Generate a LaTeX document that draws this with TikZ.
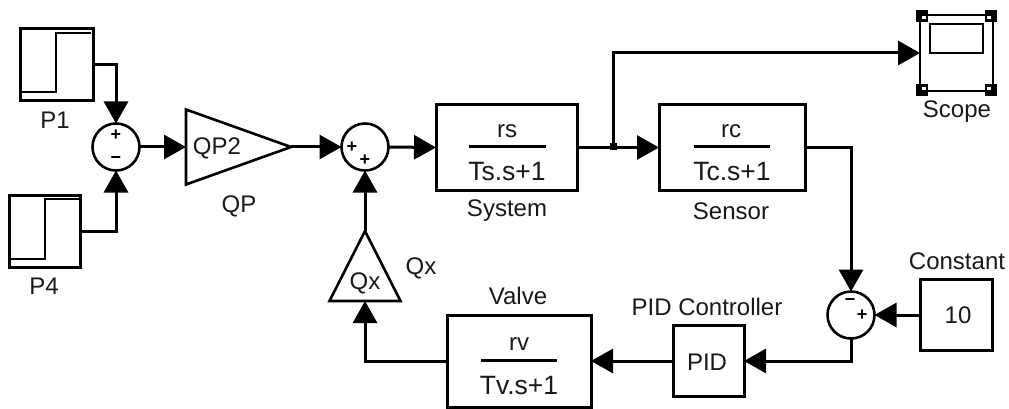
\documentclass[tikz,border=0pt]{standalone}
\usepackage{fontspec}
\setmainfont{Liberation Sans}
\usetikzlibrary{arrows.meta,shapes.geometric,calc}
\tikzset{
 x=1pt,y=-1pt,
 block/.style={draw,line width=3pt,inner sep=0pt,outer sep=0pt,rectangle},
 sumj/.style={draw,circle,line width=2.6pt,minimum size=47pt,inner sep=0pt,outer sep=0pt},
 gain/.style={draw,isosceles triangle,isosceles triangle stretches,line width=2.6pt,inner sep=0pt,outer sep=0pt},
 wire/.style={line width=3pt,-{Triangle[length=22pt,width=24pt]}},
 plain/.style={line width=3pt},
 lbl/.style={font=\fontsize{24}{28}\selectfont,text=black!90,inner sep=0pt,anchor=center},
 den/.style={lbl,font=\fontsize{26.5}{28}\selectfont},
 sgn/.style={font=\fontsize{18}{18}\selectfont\bfseries,inner sep=0pt},
 handle/.style={fill=black,inner sep=0pt,minimum size=12pt,rectangle},
 handlein/.style={fill=white,inner sep=0pt,minimum size=4pt,rectangle},
}
\begin{document}
\begin{tikzpicture}
\useasboundingbox (0,0) rectangle (1009,409);
% sources
\node[block,minimum width=73pt,minimum height=72pt] (p1) at (56.5,65) {};
\draw[line width=2.6pt] (21,92) -- (56,92) -- (56,33) -- (91,33);
\node[block,minimum width=71pt,minimum height=72pt] (p4) at (45,231) {};
\draw[line width=2.6pt] (10,259) -- (45,259) -- (45,199) -- (80,199);
\node[lbl] (lp1) at (55,120) {P1};
\node[lbl] (lp4) at (44,286) {P4};
% sums
\node[sumj] (s1) at (116,147) {};
\node[sgn] (s1a) at (116,135) {+};
\node[sgn] (s1b) at (116,160) {−};
\node[sumj] (s2) at (365,147) {};
\node[sgn] (s2a) at (352,147) {+};
\node[sgn] (s2b) at (365,160) {+};
\node[sumj] (s3) at (851,315) {};
\node[sgn] (s3a) at (850,302) {−};
\node[sgn] (s3b) at (862,315) {+};
% gains
\node[gain,anchor=lower side,minimum width=75pt,minimum height=105pt] (qp) at (186,147) {};
\node[lbl] (qpt) at (217,148) {QP2};
\node[lbl] (qpl) at (239,206) {QP};
\node[gain,anchor=lower side,shape border rotate=90,minimum width=71pt,minimum height=70pt] (qx) at (365,301) {};
\node[lbl] (qxt) at (365,283) {Qx};
\node[lbl] (qxl) at (421,268) {Qx};
% transfer blocks
\node[block,minimum width=141pt,minimum height=85pt] (sys) at (506.5,147.5) {};
\node[lbl] (sysn) at (507,131) {rs};
\draw[plain] (469,147) -- (546,147);
\node[den] (sysd) at (507,172) {Ts.s+1};
\node[lbl] (sysl) at (507,211) {System};
\node[block,minimum width=146pt,minimum height=85pt] (sen) at (732,147.5) {};
\node[lbl] (senn) at (731,131) {rc};
\draw[plain] (694,147) -- (770,147);
\node[den] (send) at (732,172) {Tc.s+1};
\node[lbl] (senl) at (731,211) {Sensor};
\node[block,minimum width=144pt,minimum height=92pt] (val) at (519,361) {};
\node[lbl] (valn) at (519,344) {rv};
\draw[plain] (481,360) -- (557,360);
\node[den] (vald) at (519,386) {Tv.s+1};
\node[lbl] (vall) at (518,296) {Valve};
\node[block,minimum width=71pt,minimum height=71pt] (pid) at (708.5,361) {};
\node[lbl] (pidt) at (707,362) {PID};
\node[lbl] (pidl) at (707,307) {PID Controller};
\node[block,minimum width=72pt,minimum height=71pt] (con) at (956,315) {};
\node[lbl] (cont) at (958,315) {10};
\node[lbl] (conl) at (957,261) {Constant};
% scope
\node[block,line width=2.6pt,minimum width=73pt,minimum height=76pt] (sc) at (956.5,53) {};
\draw[line width=2.6pt] (930,24) rectangle (983,53);
\foreach \c/\dx/\dy in {north west/2/1,north east/-2/1,south west/2/-1,south east/-2/-1}{
  \node[handle] at ($(sc.\c)+(\dx,\dy)$) {};
  \node[handlein] at ($(sc.\c)+(2*\dx,2*\dy)$) {};
}
\draw[line width=2.6pt] (sc.north west) rectangle (sc.south east);
\node[lbl] (scl) at (957,112) {Scope};
% junction
\node[fill=black,inner sep=0pt,minimum size=7pt,rectangle] (jn) at (613,147) {};
% connectors
\draw[wire] (p1.east) -| (s1.north);
\draw[wire] (p4.east) -| (s1.south);
\draw[wire] (s1.east) -- (qp.lower side);
\draw[wire] (qp.apex) -- (s2.west);
\draw[wire] (s2.east) -- (sys.west);
\draw[wire] (sys.east) -- (sen.west);
\draw[wire] (jn.center) |- (sc.west);
\draw[wire] (sen.east) -| (s3.north);
\draw[wire] (con.west) -- (s3.east);
\draw[wire] (s3.south) |- (pid.east);
\draw[wire] (pid.west) -- (val.east);
\draw[wire] (val.west) -| (qx.lower side);
\draw[wire] (qx.apex) -- (s2.south);
\end{tikzpicture}
\end{document}
